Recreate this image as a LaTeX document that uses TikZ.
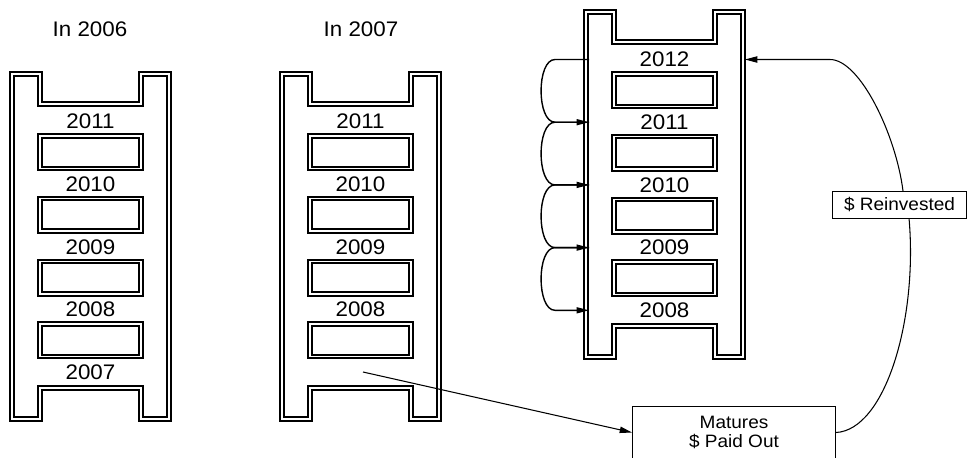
\documentclass[tikz,border=0pt]{standalone}
\usepackage{fontspec}
\setmainfont{Liberation Sans}[FakeStretch=1.06]
\usetikzlibrary{arrows.meta,calc}

\tikzset{
  railline/.style={draw, double, line width=1.1pt, double distance=0.9pt, line join=miter},
  yearlbl/.style={font=\fontsize{12}{14}\selectfont, inner sep=0pt},
  headlbl/.style={font=\fontsize{12}{14}\selectfont, inner sep=0pt},
  notebox/.style={draw, line width=0.5pt, fill=white, align=center, inner sep=0pt,
    font=\fontsize{10.2}{10.8}\selectfont},
  flowarrow/.style={line width=0.6pt, -{Triangle[length=7pt,width=3.6pt]}},
  hoparrow/.style={line width=0.8pt, -{Triangle[length=7pt,width=3.4pt]}},
}

% one ladder, top left corner at (#1,#2)
\newcommand{\ladder}[2]{%
  \begin{scope}[shift={(#1,#2)}]
    \draw[railline] (0,0) -- (28,0) -- (28,30) -- (129,30) -- (129,0) -- (157,0)
      -- (157,345) -- (129,345) -- (129,314) -- (28,314) -- (28,345) -- (0,345) -- cycle;
    \foreach \k in {0,...,3}
      \draw[railline] (28,62+62.7*\k) rectangle (129,94.5+62.7*\k);
  \end{scope}}

\begin{document}
\begin{tikzpicture}[x=0.02cm, y=-0.02cm]
\useasboundingbox (0,0) rectangle (969,457);
\clip (0,0) rectangle (969,457);
% Ladders
\ladder{12}{74}
\ladder{282}{74}
\ladder{586}{12}
% Headings
\node[headlbl] (h2006) at (90,29) {In 2006};
\node[headlbl] (h2007) at (361,29) {In 2007};
% Rung years
\foreach \y [count=\k from 0] in {2011,2010,2009,2008,2007}
  \node[yearlbl] (a\y) at (90.5,121.5+62.7*\k) {\y};
\foreach \y [count=\k from 0] in {2011,2010,2009,2008}
  \node[yearlbl] (b\y) at (360.5,121.5+62.7*\k) {\y};
\foreach \y [count=\k from 0] in {2012,2011,2010,2009,2008}
  \node[yearlbl] (c\y) at (664.5,59.5+62.7*\k) {\y};
% Rolling down one rung
\foreach \k in {0,...,4}
  \coordinate (r\k) at (589,59.5+62.7*\k);
\foreach \k [evaluate=\k as \n using int(\k+1)] in {0,...,3}
  \draw[hoparrow] (r\k) -- ($(r\k)+(-34,0)$) to[out=180,in=180,looseness=0.76]
    ($(r\n)+(-34,0)$) -- (r\n);
% Maturing rung
\coordinate (src) at (363,372);
\coordinate (rtop) at (745,59.5);
\node[notebox, minimum width=115.6pt, minimum height=30pt] (matures) at (734,432.5)
  {Matures\\\$ Paid Out};
\draw[flowarrow] (src) -- (matures.west);
\draw[flowarrow] (matures.east) .. controls (885,430) and (918,320) .. (909,218)
  -- (903,191) .. controls (896,135) and (860,59.5) .. (830,59.5) -- (rtop);
\node[notebox, minimum width=76.5pt, minimum height=15.3pt] (reinv) at (899.5,204.5)
  {\$ Reinvested};
\end{tikzpicture}
\end{document}
